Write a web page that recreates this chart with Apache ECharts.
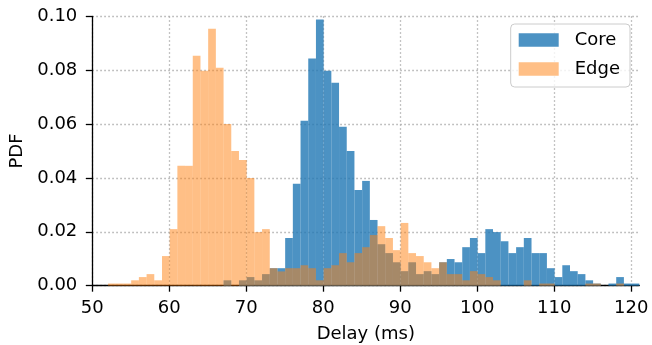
<!DOCTYPE html>
<html>
<head>
<meta charset="utf-8">
<script src="https://cdn.jsdelivr.net/npm/echarts@6/dist/echarts.min.js"></script>
<style>
html,body{margin:0;padding:0;background:#fff;}
#chart{width:652px;height:345px;}
</style>
</head>
<body>
<div id="chart"></div>
<script>
// ---- data ----
var binWidth = 1;
var coreBinStart = 67.05;
var coreValues = [
  0.002, 0, 0.002, 0.0032, 0.002, 0.0043, 0.0065, 0.0065, 0.0177, 0.0378,
  0.0612, 0.0843, 0.0988, 0.0798, 0.0753, 0.059, 0.050, 0.0355, 0.0389, 0.0244,
  0.0154, 0.0121, 0.0087, 0.0054, 0.0087, 0.0043, 0.0054, 0.0043, 0.0087, 0.0099,
  0.0087, 0.0143, 0.0177, 0.0121, 0.021, 0.0199, 0.0165, 0.0121, 0.0143, 0.0177,
  0.0121, 0.0121, 0.0065, 0.0032, 0.0076, 0.0054, 0.0043, 0.002, 0.0008, 0,
  0.0008, 0.0032, 0.0008, 0.0008
];
var edgeBinStart = 52.05;
var edgeValues = [
  0.0008, 0.0008, 0.0008, 0.002, 0.0032, 0.0043, 0.002, 0.011, 0.021, 0.0445,
  0.0445, 0.0854, 0.0798, 0.0954, 0.0809, 0.060, 0.050, 0.0467, 0.040, 0.0199,
  0.021, 0.0065, 0.0053, 0.0065, 0.0065, 0.0076, 0.0065, 0.002, 0.0065, 0.0076,
  0.0121, 0.0087, 0.0121, 0.0143, 0.0188, 0.0221, 0.0177, 0.0132, 0.0233, 0.0121,
  0.011, 0.0087, 0.0065, 0.0087, 0.0043, 0.0043, 0.002, 0.0054, 0.0043, 0.0032,
  0.002, 0, 0, 0, 0.002, 0, 0.0008, 0.0008, 0, 0,
  0, 0, 0.0008, 0.0008, 0, 0, 0.0008, 0
];
var seriesNames = ['Core', 'Edge'];
var xTicks = [50, 60, 70, 80, 90, 100, 110, 120];
var yTicks = [0, 0.02, 0.04, 0.06, 0.08, 0.10];
var xMin = 50, xMax = 121.05;

function toBins(start, vals) {
  var out = [];
  for (var i = 0; i < vals.length; i++) {
    var x0 = start + i * binWidth;
    out.push([x0, x0 + binWidth, vals[i]]);
  }
  return out;
}

function renderBar(params, api) {
  var x0 = api.value(0), x1 = api.value(1), v = api.value(2);
  if (!v) return null;
  var p0 = api.coord([x0, v]);
  var p1 = api.coord([x1, 0]);
  return {
    type: 'rect',
    shape: { x: p0[0], y: p0[1], width: p1[0] - p0[0], height: p1[1] - p0[1] },
    style: api.style()
  };
}

var FONT = 'DejaVu Sans';
var FS = 18;
var gridColors = [];
for (var i = 0; i < xTicks.length; i++) gridColors.push('#b0b0b0');
gridColors.push('rgba(0,0,0,0)');

var chart = echarts.init(document.getElementById('chart'), null, { renderer: 'canvas' });
chart.setOption({
  animation: false,
  backgroundColor: '#ffffff',
  grid: { left: 92.3, right: 12.7, top: 16.3, bottom: 59.3, containLabel: false, outerBoundsMode: 'none' },
  legend: {
    right: 22, top: 24,
    orient: 'vertical',
    itemWidth: 40, itemHeight: 13.5, itemGap: 9,
    padding: [6, 10, 8, 8],
    borderColor: '#cccccc', borderWidth: 1, borderRadius: 4,
    backgroundColor: 'rgba(255,255,255,0.8)',
    textStyle: { fontFamily: FONT, fontSize: FS, color: '#000', lineHeight: 20, padding: [0, 0, 0, 11] },
    data: [
      { name: seriesNames[0], icon: 'rect', itemStyle: { color: '#4c92c3', opacity: 1 } },
      { name: seriesNames[1], icon: 'rect', itemStyle: { color: '#ffbf86', opacity: 1 } }
    ]
  },
  xAxis: {
    type: 'value', min: xMin, max: xMax, interval: 10,
    name: 'Delay (ms)', nameLocation: 'middle', nameGap: 40,
    nameTextStyle: { fontFamily: FONT, fontSize: FS, color: '#000' },
    axisLine: { show: true, onZero: false, lineStyle: { color: '#000', width: 1.3 } },
    axisTick: { show: true, length: 6, lineStyle: { color: '#000', width: 1.3 }, customValues: xTicks },
    axisLabel: { fontFamily: FONT, fontSize: FS, color: '#000', margin: 14, customValues: xTicks,
      formatter: function (v) { return xTicks.indexOf(v) >= 0 ? String(v) : ''; } },
    splitLine: { show: true, lineStyle: { color: gridColors, width: 1.3, type: [1.5, 2.5] } }
  },
  yAxis: {
    type: 'value', min: 0, max: 0.1, interval: 0.02,
    name: 'PDF', nameLocation: 'middle', nameGap: 64,
    nameTextStyle: { fontFamily: FONT, fontSize: FS, color: '#000' },
    axisLine: { show: true, lineStyle: { color: '#000', width: 1.3 } },
    axisTick: { show: true, length: 6.5, lineStyle: { color: '#000', width: 1.3 } },
    axisLabel: { fontFamily: FONT, fontSize: FS, color: '#000', margin: 15, padding: [5, 0, 0, 0],
      formatter: function (v) { return v.toFixed(2); } },
    splitLine: { show: true, lineStyle: { color: '#b0b0b0', width: 1.3, type: [1.5, 2.5] } }
  },
  series: [
    {
      name: seriesNames[0], type: 'custom', renderItem: renderBar,
      encode: { x: [0, 1], y: 2 },
      itemStyle: { color: '#1f77b4', opacity: 0.8 },
      data: toBins(coreBinStart, coreValues), z: 2
    },
    {
      name: seriesNames[1], type: 'custom', renderItem: renderBar,
      encode: { x: [0, 1], y: 2 },
      itemStyle: { color: '#ff7f0e', opacity: 0.5 },
      data: toBins(edgeBinStart, edgeValues), z: 3
    }
  ]
});
</script>
</body>
</html>
